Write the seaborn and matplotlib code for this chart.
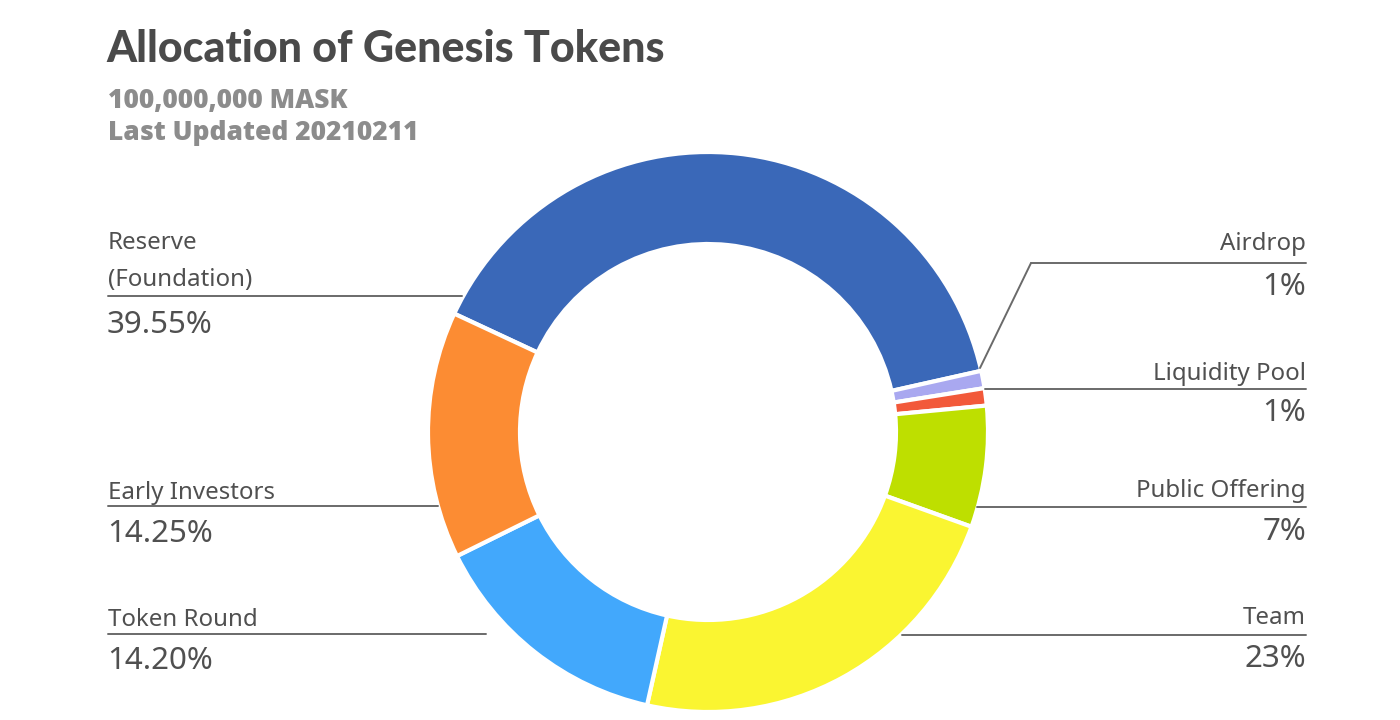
import matplotlib
matplotlib.use("Agg")
import matplotlib.pyplot as plt
import seaborn as sns

sns.set_theme(style="white")
plt.rcParams['font.family'] = ['Noto Sans', 'DejaVu Sans']

# slices, clockwise from the Reserve/Early Investors boundary
labels = ["Reserve\n(Foundation)", "Airdrop", "Liquidity Pool", "Public Offering",
          "Team", "Token Round", "Early Investors"]
shares = [39.55, 1, 1, 7, 23, 14.20, 14.25]
pct_text = ["39.55%", "1%", "1%", "7%", "23%", "14.20%", "14.25%"]
colors = ["#3A68B8", "#A9A8F0", "#F2593A", "#BEDF00", "#FAF531", "#42A8FC", "#FC8C33"]

W, H = 1400, 720
fig = plt.figure(figsize=(14, 7.2), dpi=100)
ax = fig.add_axes([0, 0, 1, 1])

ax.pie(shares, colors=colors, startangle=155, counterclock=False,
       center=(708, H - 432), radius=280,
       wedgeprops=dict(width=92, edgecolor="white", linewidth=3))
ax.set_xlim(0, W)
ax.set_ylim(0, H)
ax.set_aspect("equal")
ax.axis("off")

def Y(py):
    return H - py

dark = "#505050"
line_c = "#6a6a6a"

# title block
ax.text(106, Y(62), "Allocation of Genesis Tokens", fontsize=31, fontweight="black",
        color="#4a4a4a", family=["Lato", "DejaVu Sans"], ha="left", va="baseline")
ax.text(108, Y(108), "100,000,000 MASK", fontsize=19, fontweight="heavy",
        color="#8c8c8c", family=["Open Sans", "DejaVu Sans"], ha="left", va="baseline")
ax.text(108, Y(140), "Last Updated 20210211", fontsize=19, fontweight="heavy",
        color="#8c8c8c", family=["Open Sans", "DejaVu Sans"], ha="left", va="baseline")

name_fs = 17.3
pct_fs = 22.5

def name_lines(x, base, text, ha):
    # multi-line names: one text per line, 37 px apart
    for k, part in enumerate(text.split("\n")[::-1]):
        ax.text(x, Y(base - 37 * k), part, fontsize=name_fs, color=dark,
                ha=ha, va="baseline")

# left side labels: (index, last name baseline, line y, pct baseline, line end x)
left = [(0, 286, 296, 333, 462), (6, 499, 506, 542, 438), (5, 626, 634, 669, 486)]
for i, ny, ly, py, xe in left:
    name_lines(108, ny, labels[i], "left")
    ax.plot([108, xe], [Y(ly), Y(ly)], color=line_c, lw=1.4)
    ax.text(107, Y(py), pct_text[i], fontsize=pct_fs, color=dark, ha="left", va="baseline")

# right side labels
right = [(1, 250, 263, 295, 1031), (2, 380, 389, 421, 985),
         (3, 497, 507, 540, 977), (4, 624, 635, 667, 902)]
for i, ny, ly, py, xs in right:
    name_lines(1306, ny, labels[i], "right")
    ax.plot([xs, 1306], [Y(ly), Y(ly)], color=line_c, lw=1.4)
    ax.text(1306, Y(py), pct_text[i], fontsize=pct_fs, color=dark, ha="right", va="baseline")

# airdrop leader bends down to its thin slice
ax.plot([1031, 980], [Y(263), Y(368)], color=line_c, lw=1.4)

fig.savefig("out.png", dpi=100, facecolor="white")
